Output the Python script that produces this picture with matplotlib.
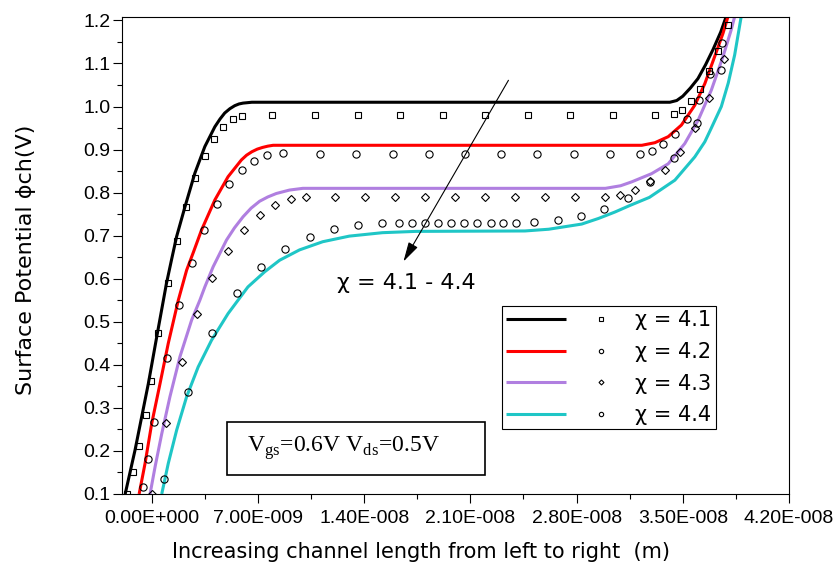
import numpy as np
import matplotlib
matplotlib.use("Agg")
import matplotlib.pyplot as plt
from matplotlib.legend_handler import HandlerTuple
from matplotlib.patches import Rectangle

# ---------------- data (x in nm, y in V) ----------------
series_labels = ["χ = 4.1", "χ = 4.2", "χ = 4.3", "χ = 4.4"]

# model curves
line41_x = [-1.75, -1.10, -0.22, 0.37, 0.97, 1.31, 1.64, 2.19, 2.84, 3.50, 4.16, 4.5, 4.81, 5.15, 5.47, 5.75, 6.02, 6.6,
            34.15, 34.6, 35.0, 35.5, 36.0, 36.5, 37.0, 37.5, 37.85, 38.1]
line41_y = [0.10, 0.202, 0.357, 0.473, 0.589, 0.645, 0.698, 0.767, 0.845, 0.907, 0.953, 0.971, 0.985, 0.995, 1.002, 1.006, 1.008, 1.010,
            1.010, 1.014, 1.024, 1.043, 1.065, 1.097, 1.133, 1.173, 1.208, 1.24]

line42_x = [-0.83, -0.44, 0.0, 0.55, 1.09, 1.75, 2.30, 2.75, 3.28, 4.16, 5.03, 5.91, 6.25, 6.6, 6.95, 7.3, 7.65, 8.0,
            32.3, 33.16, 34.04, 34.91, 35.79, 36.45, 37.10, 37.65, 37.98, 38.2]
line42_y = [0.10, 0.171, 0.264, 0.357, 0.450, 0.550, 0.620, 0.662, 0.713, 0.783, 0.837, 0.876, 0.887, 0.895, 0.901, 0.905, 0.908, 0.910,
            0.910, 0.916, 0.930, 0.957, 1.003, 1.053, 1.116, 1.170, 1.209, 1.24]

line43_x = [-0.11, 0.22, 0.66, 1.20, 1.86, 2.63, 3.17, 3.50, 4.05, 4.93, 5.45, 6.02, 6.55, 7.11, 7.65, 8.21, 9.08, 9.96,
            29.9, 30.9, 31.63, 32.94, 34.04, 35.13, 36.01, 36.88, 37.65, 38.19, 38.42, 38.6]
line43_y = [0.10, 0.163, 0.240, 0.326, 0.419, 0.504, 0.550, 0.581, 0.628, 0.690, 0.718, 0.744, 0.764, 0.780, 0.790, 0.798, 0.806, 0.810,
            0.810, 0.816, 0.825, 0.844, 0.867, 0.914, 0.968, 1.038, 1.116, 1.178, 1.209, 1.24]

line44_x = [0.66, 1.09, 1.64, 2.30, 3.06, 3.94, 5.03, 6.34, 7.44, 8.43, 9.74, 11.27, 13.02, 15.21, 17.40,
            24.6, 26.16, 28.34, 29.44, 30.53, 31.5, 32.8, 34.48, 35.79, 36.45, 36.88, 37.54, 38.0, 38.42, 38.85, 39.0]
line44_y = [0.10, 0.171, 0.248, 0.326, 0.395, 0.457, 0.519, 0.581, 0.616, 0.643, 0.667, 0.686, 0.699, 0.707, 0.710,
            0.711, 0.715, 0.727, 0.740, 0.755, 0.770, 0.789, 0.829, 0.883, 0.918, 0.950, 1.000, 1.055, 1.120, 1.209, 1.24]

# simulation points
pts41_x = [-1.60, -1.21, -0.83, -0.39, -0.05, 0.43, 1.05, 1.64, 2.25, 2.87, 3.48, 4.09, 4.70, 5.34, 5.95,
           7.95, 10.77, 13.57, 16.37, 19.18, 21.97, 24.78, 27.58, 30.38, 33.15,
           34.39, 34.98, 35.53, 36.12, 36.75, 37.35, 37.95]
pts41_y = [0.101, 0.151, 0.212, 0.283, 0.362, 0.475, 0.591, 0.688, 0.767, 0.833, 0.885, 0.924, 0.953, 0.971, 0.979,
           0.980, 0.980, 0.980, 0.980, 0.980, 0.980, 0.980, 0.980, 0.980, 0.980,
           0.982, 0.993, 1.013, 1.040, 1.082, 1.129, 1.190]

pts42_x = [-0.59, -0.26, 0.17, 1.00, 1.81, 2.67, 3.46, 4.31, 5.12, 5.95, 6.77, 7.59, 8.64,
           11.07, 13.48, 15.88, 18.25, 20.64, 23.02, 25.41, 27.80, 30.19, 32.15,
           32.94, 33.71, 34.49, 35.27, 36.05, 36.82, 37.58]
pts42_y = [0.116, 0.181, 0.267, 0.417, 0.539, 0.636, 0.713, 0.773, 0.819, 0.853, 0.874, 0.887, 0.892,
           0.890, 0.890, 0.890, 0.890, 0.890, 0.890, 0.890, 0.890, 0.890, 0.890,
           0.897, 0.912, 0.936, 0.971, 1.016, 1.075, 1.148]

pts43_x = [0.0, 0.92, 1.97, 3.00, 4.00, 5.03, 6.08, 7.11, 8.14, 9.17, 10.2,
           12.09, 14.04, 16.02, 18.01, 19.97, 21.97, 23.95, 25.89, 27.89, 29.88,
           30.86, 31.87, 32.85, 33.82, 34.81, 35.79, 36.72, 37.71]
pts43_y = [0.101, 0.264, 0.406, 0.518, 0.602, 0.665, 0.713, 0.748, 0.771, 0.785, 0.789,
           0.790, 0.790, 0.790, 0.790, 0.790, 0.790, 0.790, 0.790, 0.790, 0.790,
           0.794, 0.806, 0.826, 0.853, 0.895, 0.950, 1.020, 1.111]

pts44_x = [0.83, 2.41, 4.00, 5.62, 7.18, 8.80, 10.40, 12.00, 13.58, 15.17,
           16.31, 17.18, 18.01, 18.89, 19.74, 20.60, 21.46, 22.33, 23.18, 24.03,
           25.19, 26.75, 28.28, 29.83, 31.36, 32.85, 34.43, 35.96, 37.53]
pts44_y = [0.135, 0.336, 0.474, 0.566, 0.628, 0.669, 0.698, 0.715, 0.724, 0.729,
           0.729, 0.729, 0.730, 0.730, 0.730, 0.730, 0.730, 0.730, 0.730, 0.730,
           0.732, 0.736, 0.746, 0.762, 0.787, 0.825, 0.881, 0.962, 1.085]

xtick_values_nm = [0, 7, 14, 21, 28, 35, 42]
xtick_labels = ["0.00E+000", "7.00E-009", "1.40E-008", "2.10E-008", "2.80E-008", "3.50E-008", "4.20E-008"]
ytick_values = [0.1, 0.2, 0.3, 0.4, 0.5, 0.6, 0.7, 0.8, 0.9, 1.0, 1.1, 1.2]
ytick_labels = ["0.1", "0.2", "0.3", "0.4", "0.5", "0.6", "0.7", "0.8", "0.9", "1.0", "1.1", "1.2"]

annot_text = "χ = 4.1 - 4.4"
annot_tail = (23.51, 1.061)
annot_head = (16.59, 0.640)
annot_pos = (16.75, 0.590)
box_text = "V$_\\mathregular{gs}$=0.6V V$_\\mathregular{ds}$=0.5V"

# ---------------- styling ----------------
colors = ["#000000", "#ff0000", "#b07fe0", "#1fc6c6"]
markers = ["s", "o", "D", "o"]
msizes = [5.0, 5.2, 4.2, 5.2]

nm = 1e-9
fig = plt.figure(figsize=(8.35, 5.65), dpi=100)
ax = fig.add_axes([0.1461, 0.1257, 0.7988, 0.8442])

lines_x = [line41_x, line42_x, line43_x, line44_x]
lines_y = [line41_y, line42_y, line43_y, line44_y]
pts_x = [pts41_x, pts42_x, pts43_x, pts44_x]
pts_y = [pts41_y, pts42_y, pts43_y, pts44_y]

handles = []
for i in range(4):
    ln, = ax.plot(np.array(lines_x[i]) * nm, lines_y[i], color=colors[i], lw=2.2,
                  solid_capstyle="butt", solid_joinstyle="round", zorder=2)
    mk, = ax.plot(np.array(pts_x[i]) * nm, pts_y[i], linestyle="none", marker=markers[i],
                  ms=msizes[i], mfc="none", mec="black", mew=0.8, zorder=3)
    handles.append((ln, mk))

ax.set_xlim(-1.96 * nm, 42 * nm)
ax.set_ylim(0.1, 1.208)

ax.set_xticks(np.array(xtick_values_nm) * nm)
ax.set_xticklabels(xtick_labels, family="Liberation Sans", fontsize=14)
ax.set_xticks((np.array(xtick_values_nm[:-1]) + 3.5) * nm, minor=True)
ax.set_yticks(ytick_values)
ax.set_yticklabels(ytick_labels, family="Liberation Sans", fontsize=14)
ax.set_yticks(np.array(ytick_values[:-1]) + 0.05, minor=True)

ax.tick_params(axis="both", which="major", direction="out", length=6.5, width=0.8, colors="black")
ax.tick_params(axis="both", which="minor", direction="out", length=3.6, width=0.8)
ax.tick_params(axis="x", which="major", pad=5)
ax.tick_params(axis="y", which="major", pad=2)
for s in ax.spines.values():
    s.set_linewidth(0.8)
    s.set_color("black")

ax.set_xlabel("Increasing channel length from left to right  (m)", fontsize=15)
ax.xaxis.set_label_coords(0.448, -0.100)
ax.set_ylabel("Surface Potential ϕch(V)", fontsize=16)
ax.yaxis.set_label_coords(-0.129, 0.49)

# arrow + annotation text
ax.annotate("", xy=(annot_head[0] * nm, annot_head[1]), xytext=(annot_tail[0] * nm, annot_tail[1]),
            arrowprops=dict(arrowstyle="-|>,head_length=0.6,head_width=0.16", color="black", lw=0.8,
                            mutation_scale=20, shrinkA=0, shrinkB=0))
ax.text(annot_pos[0] * nm, annot_pos[1], annot_text, fontsize=16, ha="center", va="center")

# parameter box
ax.add_patch(Rectangle((0.158, 0.0398), 0.386, 0.1118, transform=ax.transAxes, fill=False,
                       edgecolor="black", lw=1.2, zorder=4))
ax.text(0.188, 0.088, box_text, transform=ax.transAxes, fontsize=17, family="Liberation Serif",
        ha="left", va="baseline", zorder=5)

leg = ax.legend(handles, series_labels, handler_map={tuple: HandlerTuple(ndivide=2, pad=0.25)},
                loc="upper left", bbox_to_anchor=(0.5693, 0.394), borderaxespad=0,
                fontsize=15, handlelength=6.0, handletextpad=0.22, labelspacing=0.56,
                borderpad=0.2, markerscale=0.6, fancybox=False, framealpha=1, edgecolor="black")
leg.get_frame().set_linewidth(0.8)

fig.savefig("out.png", dpi=100)
